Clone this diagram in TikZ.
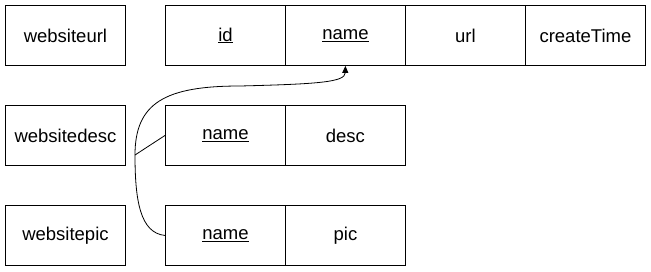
\documentclass[tikz,border=0pt]{standalone}
\usepackage{fontspec}
\setmainfont{Liberation Sans}
\usetikzlibrary{arrows.meta}
\begin{document}
\begin{tikzpicture}[x=1pt,y=-1pt,
  cell/.style={draw=black,line width=0.9pt,minimum width=120pt,minimum height=60pt,
    inner sep=0pt,anchor=north west,font=\fontsize{18.5}{22}\selectfont},
  link/.style={draw=black,line width=0.8pt}]
\useasboundingbox (0,0) rectangle (651,271);
\fill[white] (0,0) rectangle (651,271);
% table names
\node[cell] (urltab)  at (5,5)   {websiteurl};
\node[cell] (desctab) at (5,105) {websitedesc};
\node[cell] (pictab)  at (5,205) {websitepic};
% websiteurl columns
\node[cell] (uid)   at (165,5) {\underline{id}};
\node[cell] (uname) at (285,5) {\underline{name}};
\node[cell] (uurl)  at (405,5) {url};
\node[cell] (utime) at (525,5) {createTime};
% websitedesc columns
\node[cell] (dname) at (165,105) {\underline{name}};
\node[cell] (ddesc) at (285,105) {desc};
% websitepic columns
\node[cell] (pname) at (165,205) {\underline{name}};
\node[cell] (ppic)  at (285,205) {pic};
% foreign keys referencing websiteurl.name
\coordinate (joint) at (135,155);
\draw[link] (dname.west) -- (joint);
\draw[link] (pname.west) .. controls (140,233) and (135,200) .. (joint);
\draw[link,-{Triangle[length=7pt,width=6pt]}] (joint)
  .. controls (135,103) and (165,86) .. (240,86)
  .. controls (320,84) and (345,82) .. (uname.south);
\end{tikzpicture}
\end{document}
